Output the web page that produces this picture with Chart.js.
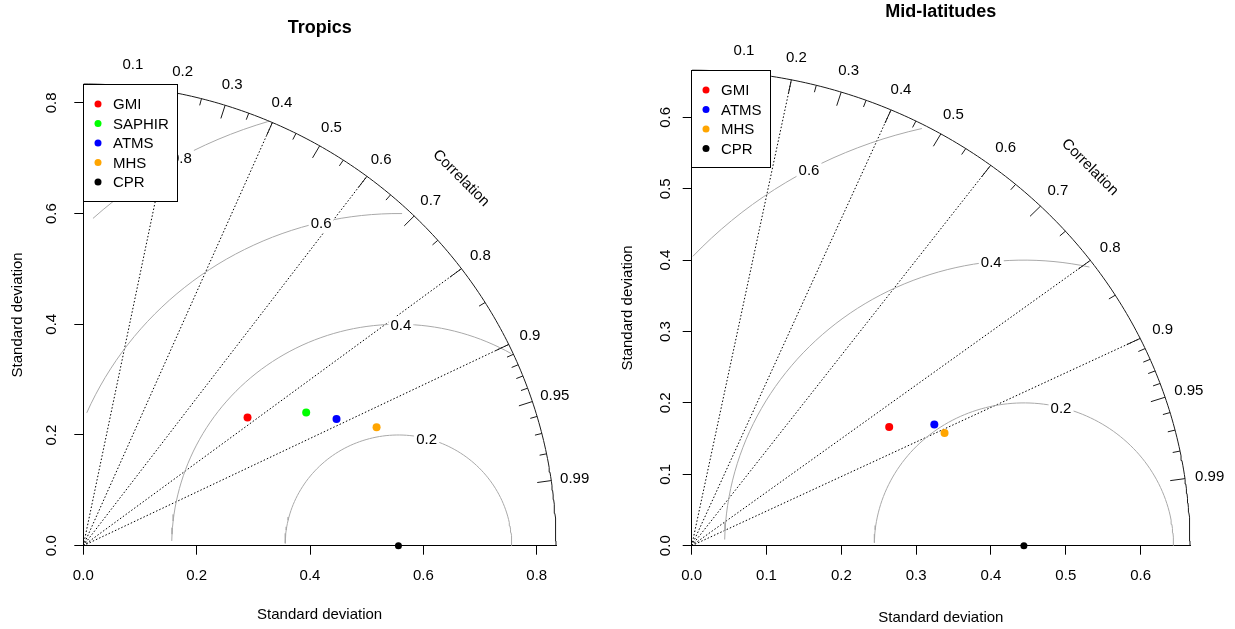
<!DOCTYPE html>
<html>
<head>
<meta charset="utf-8">
<script src="https://cdn.jsdelivr.net/npm/chart.js@4.4.0/dist/chart.umd.min.js"></script>
<style>
html, body { margin: 0; padding: 0; background: #fff; }
#wrap { position: relative; width: 1235px; height: 629px; }
#tropics { position: absolute; left: 0; top: 0; }
#midlat { position: absolute; left: 610px; top: 0; }
</style>
</head>
<body>
<div id="wrap">
  <canvas id="tropics" width="610" height="629"></canvas>
  <canvas id="midlat" width="625" height="629"></canvas>
</div>
<script>
// ---- Tropics ----
const tropicsModels = ["GMI", "SAPHIR", "ATMS", "MHS", "CPR"];
const tropicsSd = [0.371, 0.461, 0.502, 0.560, 0.556];
const tropicsCorr = [0.781, 0.853, 0.890, 0.924, 1];
const tropicsGamma = [0.2, 0.4, 0.6, 0.8];
const tropicsAxisTicks = [0, 0.2, 0.4, 0.6, 0.8];

// ---- Mid-latitudes ----
const midModels = ["GMI", "ATMS", "MHS", "CPR"];
const midSd = [0.312, 0.366, 0.373, 0.444];
const midCorr = [0.846, 0.886, 0.906, 1];
const midGamma = [0.2, 0.4, 0.6];
const midAxisTicks = [0, 0.1, 0.2, 0.3, 0.4, 0.5, 0.6];

// correlation rays, labels and minor ticks (shared)
const corrLines = [0.2, 0.4, 0.6, 0.8, 0.9];
const corrLabels = [0.1, 0.2, 0.3, 0.4, 0.5, 0.6, 0.7, 0.8, 0.9, 0.95, 0.99];
const corrMinor = [0.05, 0.15, 0.25, 0.35, 0.45, 0.55, 0.65, 0.75, 0.85,
                   0.91, 0.92, 0.93, 0.94, 0.96, 0.97, 0.98];

const FONT = '"Liberation Sans", Arial, Helvetica, sans-serif';
const colorOf = { GMI: "#ff0000", SAPHIR: "#00ff00", ATMS: "#0000ff", MHS: "#ffa500", CPR: "#000000" };

// same sampling as plotrix taylor.diagram for the centred RMS curves
function gammaCurve(sdRef, g, maxsd) {
  const xs = [], ys = [];
  for (let i = 0; i < 105; i++) {
    xs.push(sdRef + g * Math.cos(i * 0.03));
    ys.push(g * Math.sin(i * 0.03));
  }
  let end = xs.findIndex(v => v < 0);
  end = end < 0 ? 104 : end - 1;
  let start = 0;
  for (let i = 0; i < 105; i++) {
    if (xs[i] * xs[i] + ys[i] * ys[i] > maxsd * maxsd) start = i + 1;
  }
  const pts = [];
  for (let i = start; i <= end; i++) pts.push({ x: xs[i], y: ys[i] });
  return pts;
}

function makeTaylor(canvasId, title, models, sd, corr, gamma, axisTicks, lay) {
  const sdRef = sd[models.indexOf("CPR")];
  const maxsd = 1.5 * sdRef;
  const datasets = [];

  models.forEach((m, i) => {
    datasets.push({
      label: m,
      data: [{ x: sd[i] * corr[i], y: sd[i] * Math.sqrt(1 - corr[i] * corr[i]) }],
      backgroundColor: colorOf[m],
      borderWidth: 0,
      pointRadius: m === "CPR" ? 3.5 : 4,
      clip: false
    });
  });

  // outer arc
  const outer = [];
  for (let t = 0; t <= Math.PI / 2; t += 0.01) outer.push({ x: maxsd * Math.cos(t), y: maxsd * Math.sin(t) });
  datasets.push({ data: outer, showLine: true, pointRadius: 0, borderColor: "#1a1a1a", borderWidth: 1, clip: false });

  gamma.forEach(g => {
    datasets.push({ data: gammaCurve(sdRef, g, maxsd), showLine: true, pointRadius: 0,
                    borderColor: "#a9a9a9", borderWidth: 1, clip: false });
  });

  corrLines.forEach(r => {
    datasets.push({ data: [{ x: 0, y: 0 }, { x: maxsd * r, y: maxsd * Math.sqrt(1 - r * r) }],
                    showLine: true, pointRadius: 0, borderColor: "#000", borderWidth: 1,
                    borderDash: [1.5, 2], clip: false });
  });

  const overlay = {
    id: "taylorOverlay",
    afterDatasetsDraw(chart) {
      const ctx = chart.ctx;
      const xs = chart.scales.x, ys = chart.scales.y;
      const px = v => xs.getPixelForValue(v), py = v => ys.getPixelForValue(v);
      const area = chart.chartArea;
      const dy = 1.5; // R centres text a little lower than canvas 'middle'
      ctx.save();
      ctx.font = "15px " + FONT;
      ctx.textAlign = "center";
      ctx.textBaseline = "middle";

      // RMS labels in white boxes
      gamma.forEach((g, i) => {
        const idx = gamma.length > 1 ? Math.floor(45 + 25 * i / (gamma.length - 1)) : 45;
        const t = (idx - 1) * 0.03;
        const gx = sdRef + g * Math.cos(t), gy = g * Math.sin(t);
        if (gx <= 0) return;
        const s = String(g);
        const w = ctx.measureText(s).width * 1.2;
        ctx.fillStyle = "#fff";
        ctx.fillRect(px(gx) - w / 2, py(gy) - 8, w, 18);
        ctx.fillStyle = "#000";
        ctx.fillText(s, px(gx), py(gy) + dy);
      });

      // ticks on the outer arc
      ctx.strokeStyle = "#1a1a1a";
      ctx.lineWidth = 1;
      const tick = (r, len) => {
        const a = Math.acos(r);
        ctx.beginPath();
        ctx.moveTo(px(maxsd * Math.cos(a)), py(maxsd * Math.sin(a)));
        ctx.lineTo(px(len * maxsd * Math.cos(a)), py(len * maxsd * Math.sin(a)));
        ctx.stroke();
      };
      corrLabels.forEach(r => tick(r, 0.97));
      corrMinor.forEach(r => tick(r, 0.985));

      // correlation labels
      ctx.fillStyle = "#000";
      corrLabels.forEach(r => {
        const a = Math.acos(r);
        ctx.fillText(String(r), px(1.05 * maxsd * Math.cos(a)), py(1.05 * maxsd * Math.sin(a)) + dy);
      });
      ctx.save();
      ctx.translate(px(1.13 * maxsd * Math.SQRT1_2), py(1.13 * maxsd * Math.SQRT1_2) + dy);
      ctx.rotate(Math.PI / 4);
      ctx.fillText("Correlation", 0, 0);
      ctx.restore();

      // y tick labels, rotated like R
      axisTicks.forEach(v => {
        ctx.save();
        ctx.translate(area.left - lay.yLabOff, py(v));
        ctx.rotate(-Math.PI / 2);
        ctx.fillText(v.toFixed(1), 0, 0);
        ctx.restore();
      });

      // title
      ctx.font = "bold 18px " + FONT;
      ctx.fillText(title, (area.left + area.right) / 2, lay.titleY);

      // legend
      ctx.font = "15px " + FONT;
      ctx.textAlign = "left";
      const lw = Math.round(Math.max(...models.map(m => ctx.measureText(m).width)) + 38.5);
      const rowH = 19.5;
      const lh = Math.round(models.length * rowH + 19);
      const lx = Math.floor(area.left), ly = Math.round(area.top);
      ctx.fillStyle = "#fff";
      ctx.fillRect(lx, ly, lw, lh);
      ctx.strokeStyle = "#000";
      ctx.strokeRect(lx + 0.5, ly + 0.5, lw, lh);
      models.forEach((m, i) => {
        const cy = ly + 20 + i * rowH;
        ctx.fillStyle = colorOf[m];
        ctx.beginPath();
        ctx.arc(lx + 15, cy, 3.5, 0, Math.PI * 2);
        ctx.fill();
        ctx.fillStyle = "#000";
        ctx.fillText(m, lx + 30, cy + 1);
      });
      ctx.restore();
    }
  };

  return new Chart(document.getElementById(canvasId), {
    type: "scatter",
    data: { datasets: datasets },
    options: {
      responsive: false,
      animation: false,
      events: [],
      layout: { padding: { top: lay.top, right: lay.right, bottom: 0, left: 0 } },
      plugins: { legend: { display: false }, tooltip: { enabled: false } },
      scales: {
        x: {
          type: "linear", min: 0, max: maxsd,
          afterBuildTicks: s => { s.ticks = axisTicks.map(v => ({ value: v })); },
          afterFit: s => { s.height = lay.xHeight; },
          grid: { drawOnChartArea: false, drawTicks: true, tickLength: 9, color: "#000" },
          border: { display: true, color: "#000", width: 1 },
          ticks: { color: "#000", font: { family: FONT, size: 15 }, padding: 12,
                   autoSkip: false, maxRotation: 0, callback: v => v.toFixed(1) },
          title: { display: true, text: "Standard deviation", color: "#000",
                   font: { family: FONT, size: 15 }, padding: { top: 0, bottom: lay.xTitlePad } }
        },
        y: {
          type: "linear", min: 0, max: maxsd,
          afterBuildTicks: s => { s.ticks = axisTicks.map(v => ({ value: v })); },
          afterFit: s => { s.width = lay.yWidth; },
          grid: { drawOnChartArea: false, drawTicks: true, tickLength: 9, color: "#000" },
          border: { display: true, color: "#000", width: 1 },
          ticks: { display: false },
          title: { display: true, text: "Standard deviation", color: "#000",
                   font: { family: FONT, size: 15 }, padding: { top: 9, bottom: 0 } }
        }
      }
    },
    plugins: [overlay]
  });
}

makeTaylor("tropics", "Tropics", tropicsModels, tropicsSd, tropicsCorr, tropicsGamma, tropicsAxisTicks,
  { top: 84, right: 54, xHeight: 83.3, yWidth: 83.3, xTitlePad: 5, yLabOff: 31.5, titleY: 28 });
makeTaylor("midlat", "Mid-latitudes", midModels, midSd, midCorr, midGamma, midAxisTicks,
  { top: 70.2, right: 45, xHeight: 83.3, yWidth: 81.7, xTitlePad: 2, yLabOff: 26, titleY: 12 });
</script>
</body>
</html>
